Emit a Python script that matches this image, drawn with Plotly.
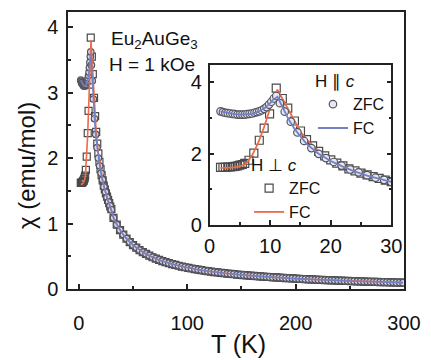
import plotly.graph_objects as go

# ---------------- data ----------------
# H || c, ZFC (circles)
T_par = [1.8, 2.2, 2.6, 3.0, 3.4, 3.8, 4.2, 4.6, 5.0, 5.4, 5.8, 6.2, 6.6, 7.0, 7.4,
         7.8, 8.2, 8.6, 9.0, 9.4, 9.8, 10.2, 10.6, 11.0, 11.6, 12.4, 13.4, 14.5,
         15.6, 16.8, 18.0, 19.2, 20.5, 21.8, 23.2, 24.6, 26.0, 27.4, 28.8, 30.0]
chi_par = [3.19, 3.17, 3.15, 3.14, 3.13, 3.12, 3.11, 3.10, 3.10, 3.10, 3.10, 3.11,
           3.12, 3.13, 3.15, 3.17, 3.19, 3.22, 3.26, 3.31, 3.38, 3.46, 3.55, 3.62,
           3.42, 3.18, 2.90, 2.60, 2.36, 2.16, 2.00, 1.88, 1.77, 1.67, 1.56, 1.48,
           1.40, 1.33, 1.27, 1.21]

# H _|_ c, ZFC (squares)
T_perp = [1.8, 2.2, 2.6, 3.0, 3.4, 3.8, 4.2, 4.6, 5.0, 5.4, 5.8, 6.5, 7.3, 8.2,
          9.0, 9.9, 11.0, 12.0, 12.9, 14.0, 15.0, 16.0, 17.0, 18.0, 19.0, 20.0,
          21.0, 22.0, 23.0, 24.0, 25.0, 26.0, 27.0, 28.0, 29.0, 30.0]
chi_perp = [1.62, 1.62, 1.62, 1.63, 1.63, 1.64, 1.65, 1.66, 1.68, 1.70, 1.73, 1.82,
            2.02, 2.38, 2.72, 3.12, 3.84, 3.55, 3.28, 2.92, 2.64, 2.40, 2.22, 2.07,
            1.94, 1.83, 1.74, 1.66, 1.58, 1.52, 1.46, 1.41, 1.36, 1.31, 1.26, 1.22]

# FC curves (lines)
T_fc = [1.8, 3, 4, 5, 6, 7, 8, 9, 10, 10.5, 11.2, 12, 13, 14, 15, 16, 18, 20, 22,
        24, 26, 28, 30]
chi_par_fc = [3.19, 3.14, 3.12, 3.10, 3.10, 3.12, 3.18, 3.27, 3.42, 3.52, 3.60,
              3.32, 2.98, 2.70, 2.48, 2.28, 2.00, 1.80, 1.64, 1.50, 1.39, 1.30, 1.21]
chi_perp_fc = [1.60, 1.60, 1.62, 1.65, 1.72, 1.95, 2.30, 2.75, 3.25, 3.55, 3.80,
               3.55, 3.25, 2.92, 2.62, 2.40, 2.07, 1.83, 1.66, 1.52, 1.41, 1.31, 1.22]

# high temperature part (both orientations coincide)
T_hi = [32, 35, 38, 41, 44, 47, 50, 53, 56, 59, 62, 65, 68, 71, 74, 77, 80, 83, 86,
        89, 92, 95, 98, 101, 104, 107, 110, 113, 116, 119, 122, 125, 128, 131, 134,
        137, 140, 143, 146, 149, 152, 155, 158, 161, 164, 167, 170, 173, 176, 179,
        182, 185, 188, 191, 194, 197, 200, 203, 206, 209, 212, 215, 218, 221, 224,
        227, 230, 233, 236, 239, 242, 245, 248, 251, 254, 257, 260, 263, 266, 269,
        272, 275, 278, 281, 284, 287, 290, 293, 296, 299]
chi_hi = [1.086, 0.984, 0.900, 0.829, 0.769, 0.717, 0.671, 0.631, 0.595, 0.563,
          0.535, 0.509, 0.485, 0.464, 0.444, 0.426, 0.410, 0.395, 0.380, 0.367,
          0.355, 0.343, 0.332, 0.322, 0.313, 0.304, 0.295, 0.287, 0.279, 0.272,
          0.265, 0.259, 0.253, 0.247, 0.241, 0.236, 0.230, 0.226, 0.221, 0.216,
          0.212, 0.208, 0.204, 0.200, 0.196, 0.193, 0.189, 0.186, 0.183, 0.179,
          0.176, 0.173, 0.170, 0.167, 0.164, 0.161, 0.158, 0.155, 0.153, 0.150,
          0.148, 0.146, 0.143, 0.141, 0.139, 0.137, 0.135, 0.133, 0.131, 0.129,
          0.127, 0.125, 0.123, 0.121, 0.119, 0.117, 0.116, 0.114, 0.112, 0.111,
          0.109, 0.108, 0.106, 0.105, 0.103, 0.102, 0.100, 0.099, 0.098, 0.097]

main_xticks = [0, 100, 200, 300]
main_yticks = [0, 1, 2, 3, 4]
inset_xticks = [0, 10, 20, 30]
inset_yticks = [0, 2, 4]

# ---------------- styles ----------------
FONT = "Liberation Sans, Arial, sans-serif"
SQ_EDGE = "#4a4a4a"
CI_EDGE = "#55555e"
CI_FILL = "#d6daf0"
RED = "#ee6a48"
BLUE = "#7480c4"
AX = "#222222"

fig = go.Figure()

# ---- main panel ----
fig.add_trace(go.Scatter(x=T_perp + T_hi, y=chi_perp + chi_hi, mode="markers",
                         marker=dict(symbol="square-open", size=7,
                                     color=SQ_EDGE, line=dict(width=1.2)),
                         showlegend=False))
fig.add_trace(go.Scatter(x=T_par + T_hi, y=chi_par + chi_hi, mode="markers",
                         marker=dict(symbol="circle", size=6.5, color=CI_FILL,
                                     line=dict(color=CI_EDGE, width=1.2)),
                         showlegend=False))
fig.add_trace(go.Scatter(x=T_fc + T_hi, y=chi_perp_fc + chi_hi, mode="lines",
                         line=dict(color=RED, width=1.6), showlegend=False))
fig.add_trace(go.Scatter(x=T_fc + T_hi, y=chi_par_fc + chi_hi, mode="lines",
                         line=dict(color=BLUE, width=1.6), showlegend=False))

# ---- inset ----
fig.add_trace(go.Scatter(x=T_perp, y=chi_perp, mode="markers", xaxis="x2", yaxis="y2",
                         name="ZFC", legend="legend2",
                         marker=dict(symbol="square-open", size=8,
                                     color=SQ_EDGE, line=dict(width=1.2))))
fig.add_trace(go.Scatter(x=T_fc, y=chi_perp_fc, mode="lines", xaxis="x2", yaxis="y2",
                         name="FC", legend="legend2",
                         line=dict(color=RED, width=1.8)))
fig.add_trace(go.Scatter(x=T_par, y=chi_par, mode="markers", xaxis="x2", yaxis="y2",
                         name="ZFC", legend="legend",
                         marker=dict(symbol="circle", size=7.5, color="#e6e8f4",
                                     line=dict(color=CI_EDGE, width=1.2))))
fig.add_trace(go.Scatter(x=T_fc, y=chi_par_fc, mode="lines", xaxis="x2", yaxis="y2",
                         name="FC", legend="legend",
                         line=dict(color=BLUE, width=1.8)))

axis_common = dict(showline=True, linecolor=AX, linewidth=1.5, ticks="inside",
                   tickcolor=AX, tickwidth=1.5, ticklen=5, showgrid=False,
                   zeroline=False, tickfont=dict(family=FONT, size=20, color="#111"))

fig.update_layout(
    width=431, height=360,
    margin=dict(l=68, r=19, t=10, b=71),
    paper_bgcolor="white", plot_bgcolor="white",
    font=dict(family=FONT, color="#111"),
    xaxis=dict(range=[-10, 300], tickvals=main_xticks, mirror=True,
               ticklabelstandoff=15,
               minor=dict(ticks="inside", ticklen=3, dtick=50, tickcolor=AX),
               **axis_common),
    yaxis=dict(range=[0, 4.23], tickvals=main_yticks, mirror=True,
               ticklabelstandoff=4,
               minor=dict(ticks="inside", ticklen=3, dtick=0.5, tickcolor=AX),
               **axis_common),
    xaxis2=dict(domain=[0.4215, 0.9622], anchor="y2", range=[0, 30],
                tickvals=inset_xticks, mirror=True, ticklabelstandoff=2,
                minor=dict(ticks="inside", ticklen=3, dtick=5, tickcolor=AX),
                **axis_common),
    yaxis2=dict(domain=[0.2305, 0.810], anchor="x2", range=[0, 4.5],
                tickvals=inset_yticks, mirror="ticks", ticklabelstandoff=2,
                minor=dict(ticks="inside", ticklen=3, dtick=1, tickcolor=AX),
                **axis_common),
    legend=dict(x=0.729, y=0.808, xanchor="left", yanchor="top",
                bgcolor="rgba(0,0,0,0)", font=dict(family=FONT, size=16),
                title=dict(text="H ∥ <i>c</i>", font=dict(family=FONT, size=17)),
                tracegroupgap=0, itemwidth=30),
    legend2=dict(x=0.539, y=0.505, xanchor="left", yanchor="top",
                 bgcolor="rgba(0,0,0,0)", font=dict(family=FONT, size=16),
                 title=dict(text="H ⊥ <i>c</i>", font=dict(family=FONT, size=17)),
                 tracegroupgap=0, itemwidth=30),
)

fig.add_annotation(text="Eu<sub>2</sub>AuGe<sub>3</sub>", xref="paper", yref="paper",
                   x=0.122, y=0.90, xanchor="left", yanchor="middle", showarrow=False,
                   font=dict(family=FONT, size=19, color="#111"))
fig.add_annotation(text="H = 1 kOe", xref="paper", yref="paper",
                   x=0.116, y=0.81, xanchor="left", yanchor="middle", showarrow=False,
                   font=dict(family=FONT, size=19, color="#111"))
fig.add_annotation(text="χ (emu/mol)", xref="paper", yref="paper",
                   x=-0.125, y=0.444, xanchor="center", yanchor="middle",
                   textangle=-90, showarrow=False,
                   font=dict(family=FONT, size=24, color="#111"))
fig.add_annotation(text="T (K)", xref="paper", yref="paper",
                   x=0.506, y=-0.20, xanchor="center", yanchor="middle",
                   showarrow=False, font=dict(family=FONT, size=25, color="#111"))

fig.write_html("out.html")
